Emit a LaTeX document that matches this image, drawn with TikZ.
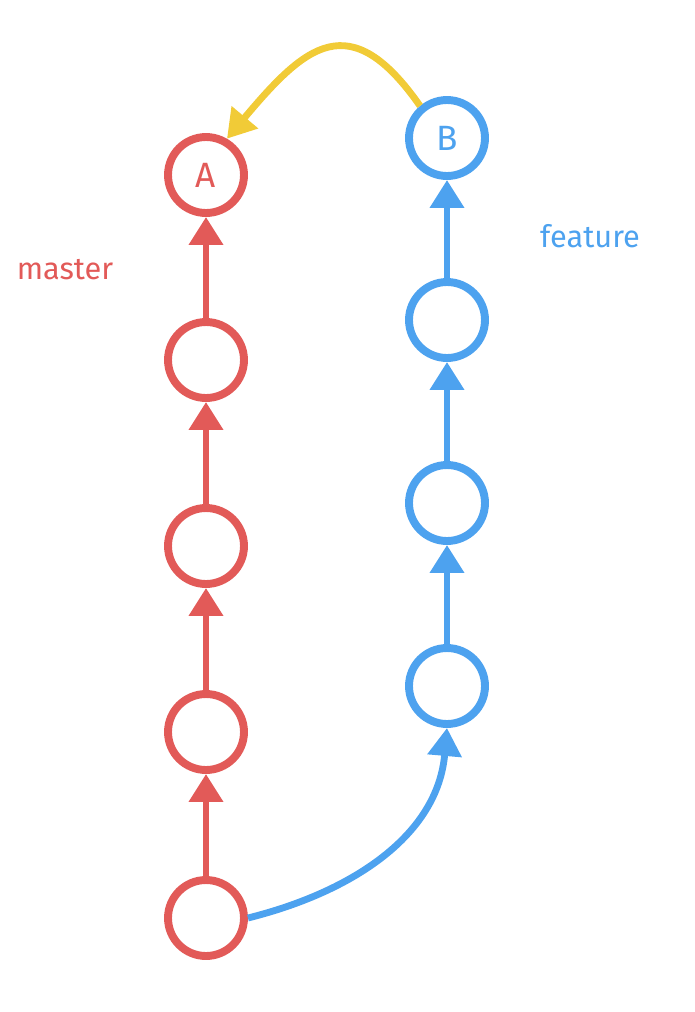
\documentclass[tikz,border=0pt]{standalone}
\usepackage{fontspec}
\setmainfont{Fira Sans}
\usepackage{tikz}
\usetikzlibrary{arrows.meta,calc,positioning}
\definecolor{gitRed}{HTML}{E25A58}
\definecolor{gitBlue}{HTML}{4DA2EF}
\definecolor{gitYellow}{HTML}{F1CB37}
\tikzset{
  commit/.style={circle, draw, line width=4.5pt, fill=white, minimum size=1.52cm, inner sep=0pt, font=\fontsize{20}{22}\selectfont},
  link/.style={-{Triangle[length=0.56cm,width=0.66cm]}, line width=3.9pt},
  branchtag/.style={font=\fontsize{17.5}{20}\selectfont},
}

\begin{document}
\begin{tikzpicture}[x=0.02cm,y=-0.02cm]
  \useasboundingbox (0,0) rectangle (694,1012);
  % master chain
  \node[commit, draw=gitRed] (m0) at (206,918) {};
  \node[commit, draw=gitRed] (m1) at (206,732) {};
  \node[commit, draw=gitRed] (m2) at (206,546) {};
  \node[commit, draw=gitRed] (m3) at (206,360) {};
  \node[commit, draw=gitRed, text=gitRed] (m4) at (206,175) {A};
  \foreach \a/\b in {m0/m1,m1/m2,m2/m3,m3/m4} {\draw[link, gitRed] (\a) -- (\b);}
  \node[branchtag, text=gitRed] (master) at (65,270) {master};

  % feature chain
  \node[commit, draw=gitBlue] (f1) at (447,686) {};
  \node[commit, draw=gitBlue] (f2) at (447,503) {};
  \node[commit, draw=gitBlue] (f3) at (447,320) {};
  \node[commit, draw=gitBlue, text=gitBlue] (f4) at (447,138) {B};
  \foreach \a/\b in {f1/f2,f2/f3,f3/f4} {\draw[link, gitBlue] (\a) -- (\b);}
  \node[branchtag, text=gitBlue] (feature) at (590,236) {feature};

  % branch off and merge back
  \draw[link, gitBlue] (m0.east) to[out=14, in=-95] (f1.south);
  \draw[link, gitYellow] (f4.130) to[out=125, in=50, looseness=1.6] (m4.60);
\end{tikzpicture}
\end{document}
